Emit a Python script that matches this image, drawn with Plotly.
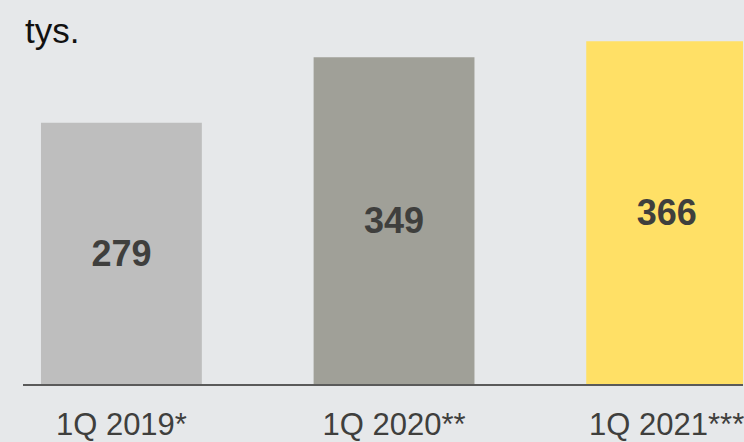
import plotly.graph_objects as go

categories = ["1Q 2019*", "1Q 2020**", "1Q 2021***"]
values = [279, 349, 366]
bar_colors = ["#bebebe", "#a0a098", "#ffe066"]
unit_label = "tys."

W, H = 744, 442
left, bottom = 23, 54

fig = go.Figure()
fig.add_trace(go.Bar(
    x=list(range(len(categories))),
    y=values,
    marker=dict(color=bar_colors, line=dict(width=0)),
    width=0.59,
    text=[str(v) for v in values],
    textposition="inside",
    insidetextanchor="middle",
    textangle=0,
    textfont=dict(family="Liberation Sans, Arial, sans-serif", size=36, color="#3f3f3d", weight="bold"),
    hoverinfo="skip",
))

fig.update_layout(
    width=W, height=H,
    margin=dict(l=left, r=0, t=0, b=bottom, pad=0),
    paper_bgcolor="#e6e8ea",
    plot_bgcolor="#e6e8ea",
    showlegend=False,
    font=dict(family="Liberation Sans, Arial, sans-serif", color="#3f3f3d"),
    xaxis=dict(
        tickmode="array",
        tickvals=list(range(len(categories))),
        ticktext=categories,
        range=[-0.361, 2.280],
        showgrid=False, zeroline=False,
        showline=True, linecolor="#5a5a5a", linewidth=2,
        ticks="outside", ticklen=12, tickcolor="rgba(0,0,0,0)",
        tickfont=dict(size=31, color="#3f3f3d"),
        ticklabeloverflow="allow",
        fixedrange=True,
    ),
    yaxis=dict(
        range=[0, 410.1],
        visible=False,
        showgrid=False, zeroline=False,
        fixedrange=True,
    ),
    annotations=[dict(
        text=unit_label, xref="paper", yref="paper",
        x=0, y=(388 - 31) / 388, xanchor="left", yanchor="middle",
        showarrow=False, font=dict(size=35, color="#111111"),
    )],
)

fig.write_html(
    "out.html",
    config={"displayModeBar": False},
    post_script="document.body.style.margin='0';document.body.style.overflow='hidden';",
)
